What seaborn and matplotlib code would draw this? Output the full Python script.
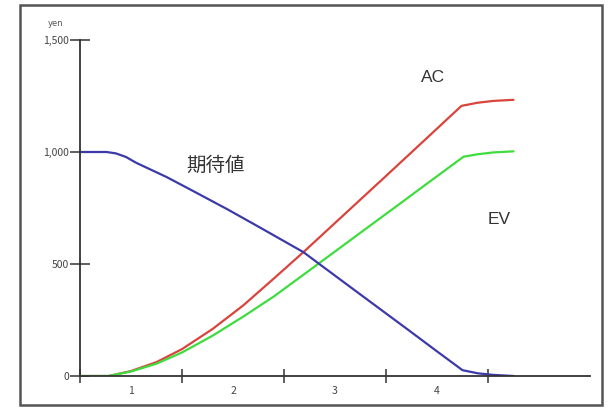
import matplotlib
matplotlib.use("Agg")
import matplotlib.pyplot as plt
import seaborn as sns
import pandas as pd
from matplotlib.patches import Rectangle

# Time (period units) and cumulative values in yen
pv_t = [0, 0.26, 0.35, 0.45, 0.55, 0.85, 1.1, 1.45, 1.76, 2.19, 2.5, 2.82, 3.2, 3.5, 3.75, 3.9, 4.05, 4.25]
pv_v = [1000, 1000, 994, 978, 952, 888, 828, 743, 664, 553, 448, 340, 212, 110, 26, 12, 5, 0]

ac_t = [0, 0.28, 0.5, 0.75, 1.0, 1.3, 1.6, 1.9, 2.2, 2.6, 3.0, 3.4, 3.74, 3.9, 4.05, 4.25]
ac_v = [0, 0, 22, 62, 120, 210, 315, 435, 557, 725, 893, 1062, 1206, 1220, 1228, 1233]

ev_t = [0, 0.28, 0.5, 0.75, 1.0, 1.3, 1.6, 1.9, 2.34, 2.7, 3.1, 3.45, 3.76, 3.9, 4.05, 4.25]
ev_v = [0, 0, 20, 55, 105, 180, 265, 355, 502, 623, 757, 875, 979, 990, 998, 1003]

y_ticks = [0, 500, 1000, 1500]
y_tick_labels = ["0", "500", "1,000", "1,500"]
period_ticks = [0, 1, 2, 3, 4]
period_pos = [0.5, 1.5, 2.5, 3.5]
period_labels = ["1", "2", "3", "4"]
unit_label = "yen"

sns.set_style("white")
plt.rcParams["font.family"] = ["Noto Sans CJK JP", "DejaVu Sans"]

fig = plt.figure(figsize=(6.1, 4.08), dpi=100)
W, H = 610, 408
ax = fig.add_axes([80 / W, (H - 376) / H, 510 / W, 336 / H])

df_ac = pd.DataFrame({"t": ac_t, "v": ac_v})
df_ev = pd.DataFrame({"t": ev_t, "v": ev_v})
df_pv = pd.DataFrame({"t": pv_t, "v": pv_v})

sns.lineplot(data=df_ac, x="t", y="v", ax=ax, color="#d9443c", linewidth=1.6, sort=False)
sns.lineplot(data=df_ev, x="t", y="v", ax=ax, color="#3fdc3f", linewidth=1.6, sort=False)
sns.lineplot(data=df_pv, x="t", y="v", ax=ax, color="#3b3aa8", linewidth=1.6, sort=False)

ax.set_xlim(0, 5)
ax.set_ylim(0, 1500)
ax.set_xlabel("")
ax.set_ylabel("")

for s in ("top", "right"):
    ax.spines[s].set_visible(False)
for s in ("left", "bottom"):
    ax.spines[s].set_color("#333333")
    ax.spines[s].set_linewidth(1.3)

ax.set_yticks(y_ticks)
ax.set_yticklabels(y_tick_labels)
ax.tick_params(axis="y", left=True, direction="inout", length=14, width=1.1, color="#333333",
               labelsize=7.5, labelcolor="#444444", pad=1)

ax.set_xticks(period_ticks)
ax.set_xticklabels([])
ax.set_xticks(period_pos, minor=True)
ax.set_xticklabels(period_labels, minor=True)
ax.tick_params(axis="x", which="major", bottom=True, direction="inout", length=10, width=1.1,
               color="#333333")
ax.tick_params(axis="x", which="minor", bottom=True, length=0, labelsize=7.5,
               labelcolor="#444444", pad=7)

ax.text(-0.24, 1575, unit_label, fontsize=6, color="#555555", ha="center", va="center",
        family="DejaVu Sans")

ax.text(3.46, 1331, "AC", fontsize=12.5, color="#333333", ha="center", va="center",
        family="Liberation Sans")
ax.text(4.11, 697, "EV", fontsize=12.5, color="#333333", ha="center", va="center",
        family="Liberation Sans")
ax.text(1.33, 942, "期待値", fontsize=14, color="#333333", ha="center", va="center")

# Outer frame around the chart
fig.patches.append(Rectangle((20 / W, (H - 405) / H), 582 / W, 400 / H,
                             transform=fig.transFigure, fill=False,
                             edgecolor="#555555", linewidth=1.8))

fig.savefig("out.png", dpi=100, facecolor="white")
